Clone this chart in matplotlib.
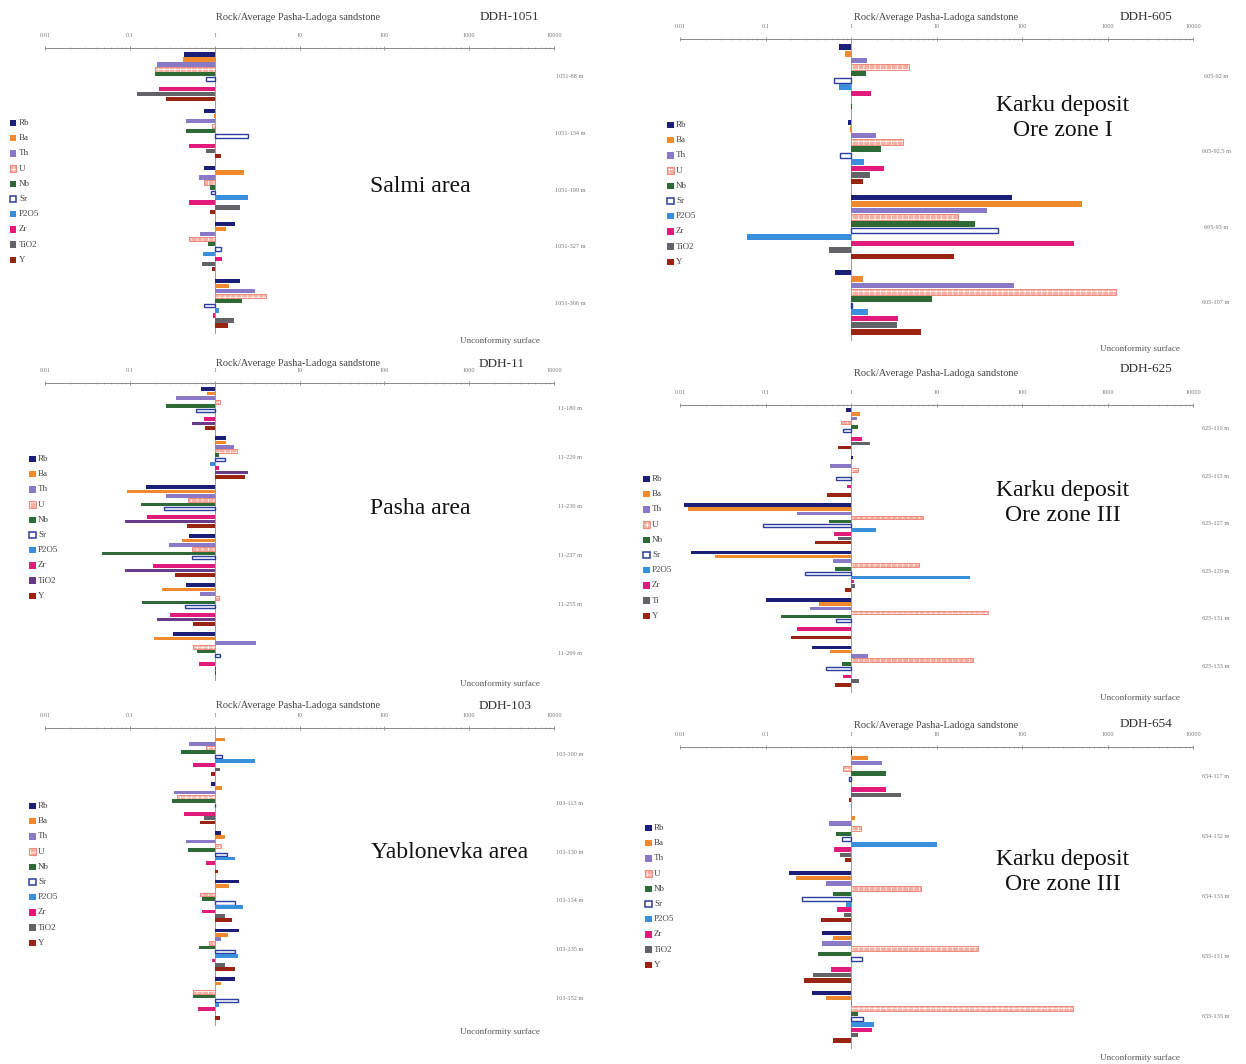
import matplotlib
matplotlib.use('Agg')
import matplotlib.pyplot as plt
from matplotlib.patches import Rectangle
from matplotlib.transforms import blended_transform_factory
import numpy as np

plt.rcParams['font.family'] = ['Liberation Serif', 'DejaVu Serif']
plt.rcParams['hatch.linewidth'] = 0.5

W, H = 1246, 1064

# ---------------- data ----------------
elements = ['Rb', 'Ba', 'Th', 'U', 'Nb', 'Sr', 'P2O5', 'Zr', 'TiO2', 'Y']
elements_625 = ['Rb', 'Ba', 'Th', 'U', 'Nb', 'Sr', 'P2O5', 'Zr', 'Ti', 'Y']

tick_values = [0.01, 0.1, 1, 10, 100, 1000, 10000]
tick_labels = ['0.01', '0.1', '1', '10', '100', '1000', '10000']

ddh1051_samples = ['1051-88 m', '1051-134 m', '1051-199 m', '1051-327 m', '1051-366 m']
ddh1051_values = [
    [0.43, 0.42, 0.21, 0.20, 0.20, 0.80, 1.0, 0.22, 0.12, 0.27],
    [0.75, 0.97, 0.46, 0.92, 0.46, 2.45, 1.0, 0.50, 0.78, 1.18],
    [0.74, 2.2, 0.65, 0.75, 0.87, 0.90, 2.45, 0.50, 1.97, 0.87],
    [1.72, 1.37, 0.67, 0.50, 0.84, 1.18, 0.72, 1.23, 0.70, 0.92],
    [2.0, 1.46, 2.95, 4.0, 2.08, 0.75, 1.12, 0.95, 1.70, 1.45],
]

ddh11_samples = ['11-180 m', '11-229 m', '11-230 m', '11-237 m', '11-255 m', '11-269 m']
ddh11_values = [
    [0.69, 0.81, 0.35, 1.15, 0.27, 0.60, 1.0, 0.75, 0.54, 0.76],
    [1.35, 1.35, 1.71, 1.83, 1.11, 1.31, 0.88, 1.14, 2.5, 2.27],
    [0.157, 0.092, 0.27, 0.49, 0.134, 0.25, 1.0, 0.16, 0.087, 0.47],
    [0.50, 0.41, 0.29, 0.54, 0.047, 0.54, 1.0, 0.19, 0.087, 0.34],
    [0.46, 0.24, 0.67, 1.11, 0.14, 0.45, 1.0, 0.30, 0.21, 0.55],
    [0.32, 0.195, 3.1, 0.55, 0.62, 1.15, 1.0, 0.65, 1.03, 1.03],
]

ddh103_samples = ['103-100 m', '103-113 m', '103-130 m', '103-134 m', '103-135 m', '103-152 m']
ddh103_values = [
    [1.0, 1.34, 0.50, 0.78, 0.40, 1.22, 2.96, 0.55, 1.15, 0.90],
    [0.90, 1.22, 0.33, 0.36, 0.31, 1.0, 1.0, 0.43, 0.74, 0.67],
    [1.18, 1.31, 0.46, 1.19, 0.48, 1.38, 1.72, 0.80, 1.0, 1.08],
    [1.92, 1.48, 1.0, 0.68, 0.70, 1.72, 2.14, 0.71, 1.31, 1.60],
    [1.92, 1.43, 1.19, 0.85, 0.65, 1.72, 1.86, 0.92, 1.31, 1.74],
    [1.72, 1.19, 1.0, 0.56, 0.56, 1.90, 1.11, 0.63, 1.0, 1.16],
]

ddh605_samples = ['605-92 m', '605-92.5 m', '605-93 m', '605-107 m']
ddh605_values = [
    [0.73, 0.86, 1.54, 4.8, 1.49, 0.64, 0.72, 1.7, 1.0, 1.04],
    [0.93, 0.97, 1.95, 4.07, 2.25, 0.75, 1.43, 2.45, 1.66, 1.37],
    [76, 505, 39, 17.7, 28, 53, 0.06, 410, 0.55, 16],
    [0.65, 1.37, 81, 1250, 8.8, 1.03, 1.57, 3.55, 3.46, 6.5],
]

ddh625_samples = ['625-110 m', '625-113 m', '625-127 m', '625-129 m', '625-131 m', '625-133 m']
ddh625_values = [
    [0.88, 1.28, 1.18, 0.77, 1.2, 0.80, 1.0, 1.34, 1.68, 0.71],
    [1.05, 1.0, 0.57, 1.2, 1.0, 0.67, 1.0, 0.90, 1.0, 0.52],
    [0.011, 0.0123, 0.235, 6.9, 0.55, 0.094, 1.97, 0.64, 0.71, 0.38],
    [0.0134, 0.0256, 0.62, 6.3, 0.65, 0.29, 24.5, 1.08, 1.1, 0.86],
    [0.10, 0.42, 0.33, 39.5, 0.15, 0.67, 1.0, 0.235, 1.0, 0.20],
    [0.35, 0.57, 1.6, 27, 0.79, 0.51, 1.0, 0.81, 1.25, 0.65],
]

ddh654_samples = ['654-117 m', '654-132 m', '654-133 m', '655-131 m', '655-135 m']
ddh654_values = [
    [1.04, 1.6, 2.28, 0.8, 2.54, 0.94, 1.0, 2.54, 3.8, 0.96],
    [1.0, 1.11, 0.56, 1.32, 0.67, 0.78, 10.2, 0.63, 0.74, 0.85],
    [0.19, 0.23, 0.51, 6.6, 0.62, 0.27, 0.87, 0.69, 0.82, 0.44],
    [0.46, 0.62, 0.46, 30.8, 0.41, 1.34, 1.0, 0.59, 0.36, 0.28],
    [0.35, 0.51, 1.04, 400, 1.22, 1.38, 1.84, 1.75, 1.22, 0.62],
]

# ---------------- styles ----------------
base_colors = ['#1b1f78', '#f08a2c', '#8a79c6', '#f4aea2', '#2e6a36',
               '#2b3d9e', '#3a8fdd', '#e21a7c', '#626268', '#9a2412']
U_EDGE = '#ec8a7c'
U_IDX, SR_IDX, TI_IDX = 3, 5, 8

# ---------------- layout (pixels) ----------------
panels = [
    dict(samples=ddh1051_samples, values=ddh1051_values, labels=elements, name='DDH-1051',
         area='Salmi area', ax_x=(45, 554), axis_y=48, bar_top=52, bar_bot=328,
         title=(298, 17), ddh=(509, 17), unconf=(500, 341), area_xy=(420, 187),
         leg=(10, 123), ti_color='#626268', label_x=570),
    dict(samples=ddh11_samples, values=ddh11_values, labels=elements, name='DDH-11',
         area='Pasha area', ax_x=(45, 554), axis_y=383, bar_top=387, bar_bot=675,
         title=(298, 364), ddh=(502, 364), unconf=(500, 684), area_xy=(420, 509),
         leg=(29, 459), ti_color='#6a3a8a', label_x=570),
    dict(samples=ddh103_samples, values=ddh103_values, labels=elements, name='DDH-103',
         area='Yablonevka area', ax_x=(45, 554), axis_y=728, bar_top=733, bar_bot=1020,
         title=(298, 706), ddh=(505, 706), unconf=(500, 1032), area_xy=(450, 852),
         leg=(29, 806), ti_color='#626268', label_x=570),
    dict(samples=ddh605_samples, values=ddh605_values, labels=elements, name='DDH-605',
         area='Karku deposit\nOre zone I', ax_x=(680, 1193), axis_y=39, bar_top=44, bar_bot=335,
         title=(936, 18), ddh=(1146, 17), unconf=(1140, 349), area_xy=(1063, 118),
         leg=(667, 125), ti_color='#626268', label_x=1216),
    dict(samples=ddh625_samples, values=ddh625_values, labels=elements_625, name='DDH-625',
         area='Karku deposit\nOre zone III', ax_x=(680, 1193), axis_y=405, bar_top=408, bar_bot=687,
         title=(936, 374), ddh=(1146, 369), unconf=(1140, 698), area_xy=(1063, 503),
         leg=(643, 479), ti_color='#626268', label_x=1216),
    dict(samples=ddh654_samples, values=ddh654_values, labels=elements, name='DDH-654',
         area='Karku deposit\nOre zone III', ax_x=(680, 1193), axis_y=747, bar_top=750, bar_bot=1043,
         title=(936, 725), ddh=(1146, 724), unconf=(1140, 1058), area_xy=(1063, 872),
         leg=(645, 828), ti_color='#626268', label_x=1216),
]

GAP = 1.4
BAR_H = 0.86
LEG_STEP = 15.2
MK = 6.5

fig = plt.figure(figsize=(W / 100, H / 100), dpi=100)
fig.patch.set_facecolor('white')


def fx(x):
    return x / W


def fy(y):
    return 1 - y / H


def style_for(i, ti_color):
    c = base_colors[i]
    if i == TI_IDX:
        c = ti_color
    return c


for p in panels:
    vals = np.array(p['values'], dtype=float)
    n = vals.shape[0]
    nel = vals.shape[1]
    total_units = n * nel + (n - 1) * GAP
    unit = (p['bar_bot'] - p['bar_top']) / total_units
    ax_bottom_px = p['bar_bot'] + 6
    x0, x1 = p['ax_x']
    ax = fig.add_axes([fx(x0), fy(ax_bottom_px), (x1 - x0) / W, (ax_bottom_px - p['axis_y']) / H])
    ax.set_xscale('log')
    ax.set_xlim(tick_values[0], tick_values[-1])
    ylim_top = -0.5 - (p['bar_top'] - p['axis_y']) / unit
    ylim_bot = (n - 1) * (nel + GAP) + nel - 0.5 + (ax_bottom_px - p['bar_bot']) / unit
    ax.set_ylim(ylim_bot, ylim_top)

    for i in range(nel):
        ys = np.arange(n) * (nel + GAP) + i
        v = vals[:, i]
        c = style_for(i, p['ti_color'])
        if i == SR_IDX:
            ax.barh(ys, v - 1, left=1, height=BAR_H * 0.85, facecolor='white',
                    edgecolor=c, linewidth=1.0, zorder=3)
        elif i == U_IDX:
            ax.barh(ys, v - 1, left=1, height=BAR_H, facecolor=c,
                    edgecolor='white', linewidth=0, hatch='+++', zorder=3)
            ax.barh(ys, v - 1, left=1, height=BAR_H, facecolor='none',
                    edgecolor=U_EDGE, linewidth=0.7, zorder=3)
        else:
            ax.barh(ys, v - 1, left=1, height=BAR_H, color=c, linewidth=0, zorder=3)

    ax.axvline(1, color='#9a9a9a', lw=0.7, zorder=2)

    # top axis
    ax.xaxis.tick_top()
    ax.set_xticks(tick_values)
    ax.set_xticklabels(tick_labels)
    ax.tick_params(axis='x', which='major', labelsize=4.5, colors='#777777', length=3,
                   width=0.5, pad=6, direction='inout')
    ax.tick_params(axis='x', which='minor', length=2, width=0.4, color='#999999', direction='inout')
    ax.set_yticks([])
    for s in ['bottom', 'left', 'right']:
        ax.spines[s].set_visible(False)
    ax.spines['top'].set_color('#8a8a8a')
    ax.spines['top'].set_linewidth(0.7)
    ax.set_facecolor('none')
    ax.patch.set_alpha(0)

    # sample labels
    trans = blended_transform_factory(ax.transAxes, ax.transData)
    lab_xa = (p['label_x'] - x0) / (x1 - x0)
    for g, s in enumerate(p['samples']):
        yc = g * (nel + GAP) + (nel - 1) / 2
        ax.text(lab_xa, yc, s, transform=trans, ha='center', va='center',
                fontsize=4.5, color='#777777', clip_on=False)

    # titles and annotations
    fig.text(fx(p['title'][0]), fy(p['title'][1]), 'Rock/Average Pasha-Ladoga sandstone',
             ha='center', va='center', fontsize=7.5, color='#444444')
    fig.text(fx(p['ddh'][0]), fy(p['ddh'][1]), p['name'], ha='center', va='center',
             fontsize=9.5, color='#333333')
    fig.text(fx(p['unconf'][0]), fy(p['unconf'][1]), 'Unconformity surface', ha='center',
             va='center', fontsize=6.5, color='#555555')
    fig.text(fx(p['area_xy'][0]), fy(p['area_xy'][1]), p['area'], ha='center', va='center',
             fontsize=17, color='#111111', linespacing=1.25)

    # legend
    lx, ly = p['leg']
    for i, lab in enumerate(p['labels']):
        yc = ly + i * LEG_STEP
        c = style_for(i, p['ti_color'])
        if i == SR_IDX:
            r = Rectangle((fx(lx), fy(yc + MK / 2)), MK / W, MK / H, transform=fig.transFigure,
                          facecolor='white', edgecolor=c, linewidth=1.1)
        elif i == U_IDX:
            r = Rectangle((fx(lx), fy(yc + MK / 2)), MK / W, MK / H, transform=fig.transFigure,
                          facecolor=c, edgecolor='white', linewidth=0, hatch='+++')
            fig.add_artist(r)
            r = Rectangle((fx(lx), fy(yc + MK / 2)), MK / W, MK / H, transform=fig.transFigure,
                          facecolor='none', edgecolor=U_EDGE, linewidth=0.8)
        else:
            r = Rectangle((fx(lx), fy(yc + MK / 2)), MK / W, MK / H, transform=fig.transFigure,
                          facecolor=c, edgecolor='none')
        fig.add_artist(r)
        fig.text(fx(lx + MK + 2.5), fy(yc), lab, ha='left', va='center', fontsize=6.5,
                 color='#444444')

fig.savefig('out.png', dpi=100, facecolor='white')
